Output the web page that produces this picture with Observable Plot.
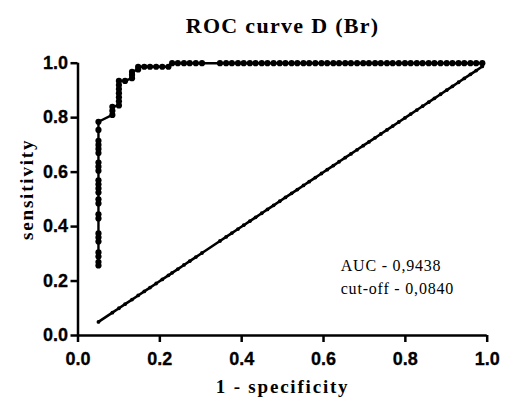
<!DOCTYPE html>
<html><head><meta charset="utf-8">
<script src="https://cdn.jsdelivr.net/npm/d3@7"></script>
<script src="https://cdn.jsdelivr.net/npm/@observablehq/plot@0.6"></script>
<style>
body{margin:0;background:#fff;}
</style></head><body><div id="chart"></div>
<script>
// ROC curve points: [1 - specificity, sensitivity]
const rocPoints = [
  [0.05,0.257],[0.05,0.27],[0.05,0.29],[0.05,0.305],[0.05,0.345],[0.05,0.36],
  [0.05,0.375],[0.05,0.43],[0.05,0.445],[0.05,0.485],[0.05,0.5],[0.05,0.525],
  [0.05,0.54],[0.05,0.555],[0.05,0.57],[0.05,0.605],[0.05,0.62],[0.05,0.635],
  [0.05,0.67],[0.05,0.685],[0.05,0.7],[0.05,0.715],[0.05,0.755],[0.05,0.785],
  [0.084,0.81],[0.084,0.825],[0.084,0.84],
  [0.1,0.845],[0.1,0.86],[0.1,0.875],[0.1,0.89],[0.1,0.905],[0.1,0.92],[0.1,0.935],
  [0.115,0.935],
  [0.132,0.945],[0.132,0.957],[0.132,0.968],
  [0.147,0.977],[0.147,0.987],
  [0.162,0.987],[0.176,0.987],[0.191,0.987],[0.206,0.987],[0.221,0.987],
  [0.230,1],[0.244,1],[0.259,1],[0.273,1],[0.288,1],[0.303,1],
  [0.347,1],[0.362,1],[0.376,1],[0.391,1],[0.405,1],[0.420,1],[0.434,1],[0.449,1],
  [0.463,1],[0.478,1],[0.493,1],[0.507,1],[0.522,1],[0.536,1],[0.551,1],[0.565,1],
  [0.580,1],[0.595,1],[0.609,1],[0.624,1],[0.638,1],[0.653,1],[0.667,1],[0.682,1],
  [0.697,1],[0.711,1],[0.726,1],[0.740,1],[0.755,1],[0.769,1],[0.784,1],[0.799,1],
  [0.813,1],[0.828,1],[0.842,1],[0.857,1],[0.871,1],[0.886,1],[0.901,1],[0.915,1],
  [0.930,1],[0.944,1],[0.959,1],[0.973,1],[0.988,1]
];
const xTicks = [0, 0.2, 0.4, 0.6, 0.8, 1.0];
const yTicks = [0, 0.2, 0.4, 0.6, 0.8, 1.0];
const tickLabels = ["0.0", "0.2", "0.4", "0.6", "0.8", "1.0"];
const title = "ROC curve D (Br)";
const xLabel = "1 - specificity";
const yLabel = "sensitivity";
const notes = ["AUC - 0,9438", "cut-off - 0,0840"];
const noteX = 0.642;
const noteY = [0.255, 0.172];

const roc = rocPoints.map(([x, y]) => ({x, y}));
// line of identity drawn at the same false-positive rates
const diag = Array.from(new Set(rocPoints.map(p => p[0])), v => ({x: v, y: v}));

const sans = "'Liberation Sans', Arial, sans-serif";
const serif = "'Liberation Serif', 'Times New Roman', serif";

const chart = Plot.plot({
  width: 511, height: 405,
  marginTop: 62.7, marginBottom: 70, marginLeft: 77.5, marginRight: 24.3,
  x: {domain: [0, 1]}, y: {domain: [0, 1]},
  style: {background: "#fff", color: "#000", overflow: "visible"},
  marks: [
    Plot.axisX(xTicks, {tickSize: 7, tickFormat: () => "", strokeWidth: 2.5, label: null}),
    Plot.axisY(yTicks, {tickSize: 7, tickFormat: () => "", strokeWidth: 2.5, label: null}),
    Plot.text(xTicks, {x: d => d, text: (d, i) => tickLabels[i], frameAnchor: "bottom", dy: 17,
      lineAnchor: "top", textAnchor: "middle", fontSize: 18, fontWeight: "bold", fontFamily: sans,
      fill: "#000", stroke: "#000", strokeWidth: 0.3}),
    Plot.text(yTicks, {y: d => d, text: (d, i) => tickLabels[i], frameAnchor: "left", dx: -10,
      lineAnchor: "middle", textAnchor: "end", fontSize: 18, fontWeight: "bold", fontFamily: sans,
      fill: "#000", stroke: "#000", strokeWidth: 0.3}),
    Plot.ruleX([0], {strokeWidth: 2.5}),
    Plot.ruleY([0], {strokeWidth: 2.5}),
    Plot.line(diag, {x: "x", y: "y", strokeWidth: 2.6, stroke: "#000"}),
    Plot.dot(diag, {x: "x", y: "y", r: 1.9, fill: "#000"}),
    Plot.line(roc, {x: "x", y: "y", strokeWidth: 2.4, stroke: "#000"}),
    Plot.dot(roc, {x: "x", y: "y", r: 3.1, fill: "#000"}),
    Plot.text(notes, {x: () => noteX, y: (d, i) => noteY[i], text: d => d,
      textAnchor: "start", lineAnchor: "middle", fontSize: 16, fontWeight: "normal", fontFamily: serif, fill: "#000"}),
    Plot.text([title], {frameAnchor: "top", dy: -30, lineAnchor: "bottom", textAnchor: "middle",
      fontSize: 22, fontWeight: "bold", fontFamily: serif, fill: "#000"}),
    Plot.text([xLabel], {frameAnchor: "bottom", dy: 57, lineAnchor: "bottom", textAnchor: "middle",
      fontSize: 19, fontWeight: "bold", fontFamily: serif, fill: "#000"}),
    Plot.text([yLabel], {frameAnchor: "left", dx: -45, dy: -10, rotate: -90, lineAnchor: "bottom", textAnchor: "middle",
      fontSize: 19, fontWeight: "bold", fontFamily: serif, fill: "#000"})
  ]
});
// letter spacing as in the reference's typesetting
const spacing = new Map([[title, "1.3px"], [xLabel, "1.8px"], [yLabel, "1.8px"], [notes[0], "0.8px"], [notes[1], "0.8px"]]);
d3.select(chart).selectAll("text").each(function() {
  const s = spacing.get(this.textContent);
  if (s) this.setAttribute("letter-spacing", s);
});
document.getElementById("chart").appendChild(chart);
</script></body></html>
